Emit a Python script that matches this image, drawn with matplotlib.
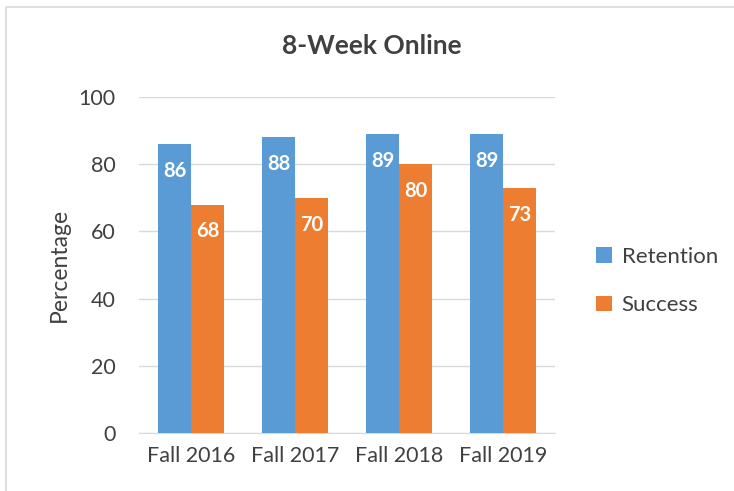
import matplotlib
matplotlib.use("Agg")
import matplotlib.pyplot as plt
from matplotlib.patches import Rectangle
import numpy as np

categories = ["Fall 2016", "Fall 2017", "Fall 2018", "Fall 2019"]
retention = [86, 88, 89, 89]
success = [68, 70, 80, 73]
yticks = [0, 20, 40, 60, 80, 100]

plt.rcParams['font.family'] = ['Lato', 'DejaVu Sans']

W, H = 734, 491
fig = plt.figure(figsize=(W / 100, H / 100), dpi=100)
ax = fig.add_axes([139 / W, 1 - 433 / H, (555 - 139) / W, (433 - 97) / H])

blue = "#5B9BD5"
orange = "#ED7D31"
txt = "#404040"
x = np.arange(len(categories))
bw = 0.315
b1 = ax.bar(x - bw / 2, retention, bw, color=blue, label="Retention", zorder=3)
b2 = ax.bar(x + bw / 2, success, bw, color=orange, label="Success", zorder=3)

for bars, vals in ((b1, retention), (b2, success)):
    for r, v in zip(bars, vals):
        ax.text(r.get_x() + r.get_width() / 2, v - 8, f"{v}", ha="center", va="center",
                color="white", fontsize=14.5, fontweight="bold", zorder=4)

ax.set_xlim(-0.5, 3.5)
ax.set_ylim(0, 100)
ax.set_yticks(yticks)
ax.set_xticks(x)
ax.set_xticklabels(categories)
ax.tick_params(axis="both", length=0, labelsize=15.5, colors=txt, pad=9)
ax.tick_params(axis="y", pad=17)
ax.grid(axis="y", color="#D9D9D9", linewidth=1, zorder=0)
for s in ["top", "right", "left"]:
    ax.spines[s].set_visible(False)
ax.spines["bottom"].set_color("#D9D9D9")
ax.set_ylabel("Percentage", fontsize=16.5, color=txt, labelpad=6)

fig.text(372 / W, 1 - 46 / H, "8-Week Online", ha="center", va="center",
         fontsize=19, fontweight="bold", color=txt)

leg = fig.legend(handles=[b1, b2], loc="center left", bbox_to_anchor=(576 / W, 1 - 281 / H),
                 frameon=False, fontsize=16, handlelength=0.7, handleheight=0.7,
                 labelspacing=1.3, handletextpad=0.45)
for t in leg.get_texts():
    t.set_color(txt)

fig.patches.append(Rectangle((6 / W, -0.1), 1.2, 1 - 7 / H + 0.1, transform=fig.transFigure,
                             fill=False, edgecolor="#D9D9D9", linewidth=1.2))

fig.savefig("out.png", dpi=100)
